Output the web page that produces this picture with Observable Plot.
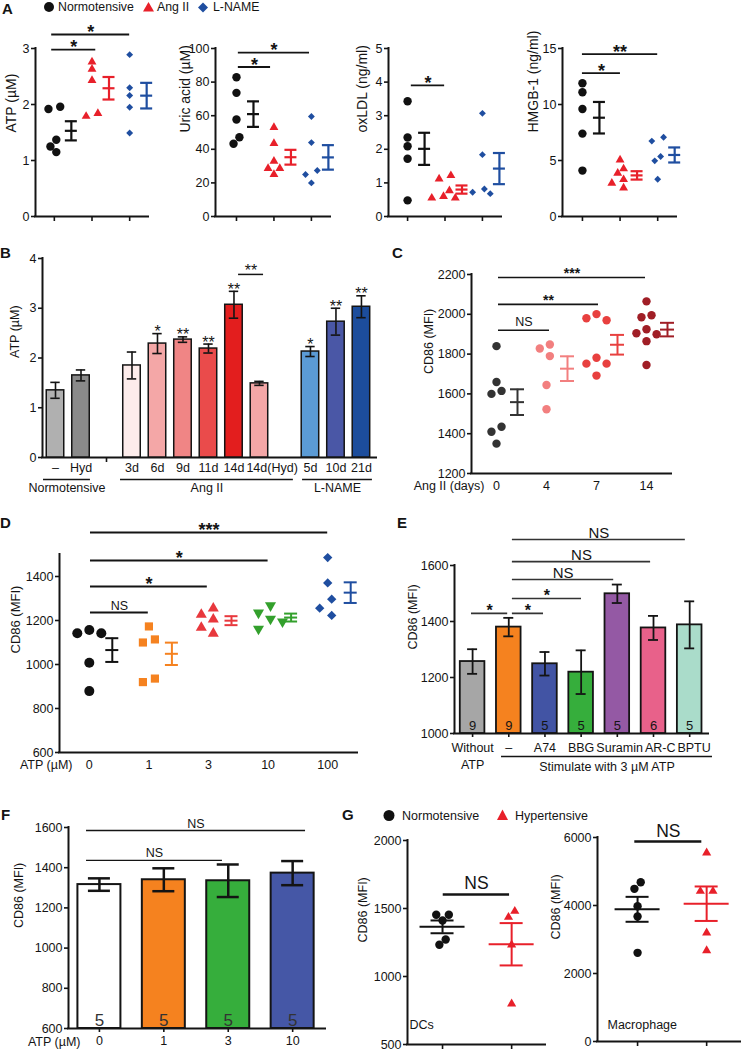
<!DOCTYPE html>
<html>
<head>
<meta charset="utf-8">
<script src="https://cdn.jsdelivr.net/npm/d3@7"></script>
<script src="https://cdn.jsdelivr.net/npm/@observablehq/plot@0.6"></script>
<style>
  html, body { margin: 0; padding: 0; background: #fff; }
  #page { position: relative; width: 741px; height: 1050px; overflow: hidden; background: #fff; }
  #page > svg { position: absolute; left: 0; top: 0; }
</style>
</head>
<body>
<div id="page"></div>
<script>
const W = 741, H = 1050;
const FONT = '"Liberation Sans", Arial, Helvetica, sans-serif';
const INK = "#141414";

/* ================= DATA ================= */
// Panel A (three groups, scatter with mean ± SEM)
const groupsA = ["Normotensive", "Ang II", "L-NAME"];
const colorsA = ["#111111", "#e8202a", "#1f4ea0"];
const atpA = [[1.96, 1.92, 1.37, 1.15, 1.25], [2.63, 2.76, 2.43, 1.79, 1.84], [2.89, 2.30, 2.16, 1.95, 1.49]];
const uricAcidA = [[82.9, 73.6, 57.7, 47.2, 43.3], [53, 43.5, 33, 28.6, 28.6, 25], [59.5, 44, 27.4, 25, 20]];
const oxLDLA = [[3.43, 2.35, 2.09, 1.72, 0.48], [1.22, 1.12, 0.77, 0.60, 0.55, 0.55], [3.07, 1.84, 0.82, 0.72, 0.68]];
const hmgbA = [[11.9, 11.1, 9.6, 7.4, 4.1], [5.06, 4.26, 3.87, 3.3, 2.97, 2.56], [7.08, 6.73, 5.36, 4.97, 3.33]];
const ticksAtp = [0, 1, 2, 3], ticksUric = [0, 20, 40, 60, 80, 100], ticksOx = [0, 1, 2, 3, 4, 5], ticksHmgb = [0, 5, 10, 15];
const sigA1 = [{x1: -0.07, x2: 1.1, y: 2.98, label: "*"}, {x1: -0.07, x2: 2.0, y: 3.25, label: "*"}];
const sigA2 = [{x1: 0.05, x2: 0.91, y: 89, label: "*"}, {x1: 0.05, x2: 1.95, y: 97.6, label: "*"}];
const sigA3 = [{x1: 0.1, x2: 0.99, y: 3.9, label: "*"}];
const sigA4 = [{x1: 0.0, x2: 1.01, y: 12.8, label: "*"}, {x1: 0.0, x2: 2.0, y: 14.5, label: "**"}];

// Panel B (bars, ATP over time)
const bConditions = ["–", "Hyd", "3d", "6d", "9d", "11d", "14d", "14d(Hyd)", "5d", "10d", "21d"];
const bGroupOf = ["Normotensive", "Normotensive", "Ang II", "Ang II", "Ang II", "Ang II", "Ang II", "Ang II", "L-NAME", "L-NAME", "L-NAME"];
const bGroups = ["Normotensive", "Ang II", "L-NAME"];
const bMean = [1.35, 1.65, 1.85, 2.29, 2.37, 2.19, 3.07, 1.49, 2.13, 2.73, 3.03];
const bSem = [0.16, 0.11, 0.27, 0.20, 0.055, 0.09, 0.27, 0.04, 0.10, 0.27, 0.22];
const bStars = ["", "", "", "*", "**", "**", "**", "", "*", "**", "**"];
const bColors = ["#b0b0b0", "#8a8a8a", "#fdeceb", "#f4a7a7", "#f08585", "#ea4b4b", "#e31e1e", "#f4a7a7", "#5b9bd5", "#4a57a6", "#1c4d9c"];
const bTicksY = [0, 1, 2, 3, 4];
const bGroupSpan = [[-0.47, 1.37], [2.55, 9.33], [9.69, 12.43]];
const sigB = [{x1: 7.18, x2: 8.16, y: 3.68, label: "**"}];

// Panel C (CD86 vs Ang II days)
const cDays = ["0", "4", "7", "14"];
const cColors = ["#333333", "#f27f7f", "#e8403f", "#a01e26"];
const cd86Days = [
  [1840, 1660, 1600, 1615, 1435, 1410, 1350],
  [1848, 1828, 1790, 1645, 1523],
  [2001, 1970, 1980, 1782, 1752, 1752, 1692],
  [2065, 1995, 1985, 1925, 1900, 1905, 1865, 1745]
];
const cTicksY = [1200, 1400, 1600, 1800, 2000, 2200];
const sigC = [{x1: 0.04, x2: 1.06, y: 1920, label: "NS"}, {x1: 0.04, x2: 2.04, y: 2050, label: "**"}, {x1: 0.04, x2: 2.98, y: 2185, label: "***"}];

// Panel D (CD86 vs ATP dose)
const dDoses = ["0", "1", "3", "10", "100"];
const dColors = ["#111111", "#f58220", "#e8383d", "#33a02c", "#1f4ea0"];
const cd86Dose = [
  [1157, 1142, 1142, 1008, 879],
  [1173, 1114, 1100, 936, 920],
  [1255, 1227, 1205, 1168, 1141],
  [1268, 1235, 1207, 1195, 1162],
  [1486, 1371, 1297, 1256, 1223]
];
const dTicksY = [600, 800, 1000, 1200, 1400];
const sigD = [{x1: 0.02, x2: 0.99, y: 1236, label: "NS"}, {x1: 0.02, x2: 1.98, y: 1355, label: "*"}, {x1: 0.02, x2: 3.0, y: 1473, label: "*"}, {x1: 0.02, x2: 4.0, y: 1600, label: "***"}];

// Panel E (antagonists)
const eLabels = ["Without\nATP", "–", "A74", "BBG", "Suramin", "AR-C", "BPTU"];
const eMean = [1257, 1380, 1249, 1219, 1499, 1377, 1388];
const eSem = [44, 33, 42, 78, 33, 43, 84];
const eN = [9, 9, 5, 5, 5, 6, 5];
const eColors = ["#a6a6a6", "#f5821f", "#4254a4", "#36ae3c", "#9459a4", "#e8618a", "#aadcca"];
const eTicksY = [1000, 1200, 1400, 1600];
const sigE = [
  {x1: -0.03, x2: 0.97, y: 1429, label: "*"}, {x1: 1.1, x2: 1.96, y: 1429, label: "*"},
  {x1: 1.1, x2: 3.01, y: 1482, label: "*"}, {x1: 1.1, x2: 3.9, y: 1550, label: "NS"},
  {x1: 1.1, x2: 4.92, y: 1614, label: "NS"}, {x1: 1.1, x2: 5.88, y: 1693, label: "NS"}
];

// Panel F (bars vs ATP dose)
const fDoses = ["0", "1", "3", "10"];
const fMean = [1316, 1340, 1335, 1373];
const fSem = [31, 57, 81, 60];
const fN = [5, 5, 5, 5];
const fColors = ["#ffffff", "#f5821f", "#36ae3c", "#4557a6"];
const fTicksY = [600, 800, 1000, 1200, 1400, 1600];
const sigF = [{x1: -0.2, x2: 1.91, y: 1436, label: "NS"}, {x1: -0.2, x2: 3.2, y: 1585, label: "NS"}];

// Panel G (DCs and macrophages)
const gGroups = ["Normotensive", "Hypertensive"];
const gColors = ["#111111", "#e8202a"];
const dcsG = [[1454, 1454, 1412, 1233, 1272], [1480, 1436, 1233, 799]];
const macroG = [[4685, 4490, 3980, 3676, 2608], [5550, 4420, 4420, 3197, 2676]];
const gTicksDC = [500, 1000, 1500, 2000], gTicksMac = [0, 2000, 4000, 6000];
const sigG1 = [{x1: 0.01, x2: 0.97, y: 1603, label: "NS"}];
const sigG2 = [{x1: -0.04, x2: 0.93, y: 5882, label: "NS"}];

/* ================= LAYOUT (page pixels) ================= */
function frame(left, right, top, bottom, xd, yd) {
  return {left, right, top, bottom, xd, yd, kx: (right - left) / (xd[1] - xd[0]), ky: (bottom - top) / (yd[1] - yd[0])};
}
const fA1 = frame(35, 148, 48, 216, [-0.5, 2.5], [0, 3]);
const fA2 = frame(215, 330, 48, 216, [-0.56, 2.51], [0, 100]);
const fA3 = frame(388, 501, 48, 216, [-0.51, 2.51], [0, 5]);
const fA4 = frame(562, 676, 48, 216, [-0.53, 2.5], [0, 15]);
const fB = frame(42, 376, 258, 457, [-0.51, 12.59], [0, 4]);
const fC = frame(471, 671, 274, 473, [-0.5, 3.5], [1200, 2200]);
const fD = frame(59, 357, 554, 752, [-0.5, 4.5], [600, 1500]);
const fE = frame(454, 708, 565, 733, [-0.5, 6.52], [1000, 1600]);
const fF = frame(68, 325, 827, 1028, [-0.48, 3.51], [600, 1600]);
const fG1 = frame(407, 545, 840, 1044, [-0.507, 1.49], [500, 2000]);
const fG2 = frame(597, 740, 837, 1041, [-0.58, 1.49], [0, 6000]);

/* ================= HELPERS ================= */
const page = document.getElementById("page");

function chart(f, marks) {
  const svg = Plot.plot({
    width: W, height: H,
    marginLeft: f.left, marginRight: W - f.right, marginTop: f.top, marginBottom: H - f.bottom,
    x: {type: "linear", domain: f.xd, range: [f.left, f.right], axis: null, label: null},
    y: {type: "linear", domain: f.yd, range: [f.bottom, f.top], axis: null, label: null},
    style: `background: transparent; overflow: visible; font-family: ${FONT}; font-size: 12.5px; color: ${INK};`,
    marks: [
      Plot.ruleX([f.xd[0]], {y1: f.yd[0], y2: f.yd[1], stroke: INK, strokeWidth: 2, strokeLinecap: "square"}),
      Plot.ruleY([f.yd[0]], {x1: f.xd[0], x2: f.xd[1], stroke: INK, strokeWidth: 2, strokeLinecap: "square"}),
      ...marks
    ]
  });
  page.appendChild(svg);
}

function yAxis(ticks, fontSize = 12.5) {
  return Plot.axisY({ticks, tickSize: 4, tickPadding: 2, tickFormat: d => String(d), label: null, strokeWidth: 1.6, fontSize});
}
function yLabel(text, offset, fontSize = 12.5) {
  return Plot.text([text], {frameAnchor: "left", dx: -offset, rotate: -90, text: d => d, fontSize});
}

// category labels under an axis: pushed rightwards only where two would overlap
const measureCtx = document.createElement("canvas").getContext("2d");
function textWidth(s, size) {
  measureCtx.font = `${size}px ${FONT}`;
  return d3.max(s.split("\n"), l => measureCtx.measureText(l).width);
}
function categoryLabels(f, labels, slots, {size = 12.5, dy = 7, lineHeight = 1}) {
  let prevRight = -Infinity;
  const xs = labels.map((l, i) => {
    const w = textWidth(l, size), c = f.left + (slots[i] - f.xd[0]) * f.kx;
    const shift = Math.max(0, prevRight + 2 - (c - w / 2));
    prevRight = c - w / 2 + shift + w;
    return slots[i] + shift / f.kx;
  });
  return Plot.text(labels, {x: (d, i) => xs[i], y: () => f.yd[0], text: d => d, dy, lineAnchor: "top", fontSize: size, lineHeight});
}

// beeswarm-like horizontal offsets (in x units) so that symbols do not overlap too much
function swarm(vals, f, diam, stepF = 0.75, minF = 1.05) {
  const minD = diam * minF, step = diam * stepF;
  const order = d3.range(vals.length).sort((a, b) => vals[b] - vals[a]);
  const pos = new Array(vals.length).fill(0);
  const placed = [];
  for (const i of order) {
    const py = vals[i] * f.ky;
    for (let k = 0; k < 60; k++) {
      const c = k === 0 ? 0 : (k % 2 ? -1 : 1) * Math.ceil(k / 2) * step;
      if (placed.every(p => Math.hypot(pos[p] - c, vals[p] * f.ky - py) >= minD)) { pos[i] = c; break; }
    }
    placed.push(i);
  }
  // clusters: chains of points that are vertically closer than one symbol; centre each cluster
  let cluster = [order[0]];
  const flush = () => {
    const m = d3.mean(cluster, i => pos[i]);
    cluster.forEach(i => { pos[i] -= m; });
  };
  for (let k = 1; k < order.length; k++) {
    const a = order[k - 1], b = order[k];
    if ((vals[a] - vals[b]) * f.ky < minD) cluster.push(b);
    else { flush(); cluster = [b]; }
  }
  flush();
  return pos.map(p => p / f.kx);
}

function dotPlot(f, groups, o) {
  const {colors, symbols, r, diam, stepF, minF, ebDx, meanHalf, capHalf, sw} = o;
  const marks = [];
  groups.forEach((vals, gi) => {
    const off = swarm(vals, f, diam, stepF, minF);
    const pts = vals.map((v, i) => ({x: gi + off[i], v}));
    marks.push(Plot.dot(pts, {x: "x", y: "v", r: r[gi], symbol: symbols[gi], fill: colors[gi], stroke: "none"}));
  });
  const stats = groups.map((vals, gi) => {
    const m = d3.mean(vals), s = d3.deviation(vals) / Math.sqrt(vals.length);
    return {x: gi + ebDx / f.kx, m, lo: m - s, hi: m + s, c: colors[gi]};
  });
  const mh = meanHalf / f.kx, ch = capHalf / f.kx;
  marks.push(Plot.ruleX(stats, {x: "x", y1: "lo", y2: "hi", stroke: d => d.c, strokeWidth: sw}));
  marks.push(Plot.ruleY(stats, {y: "m", x1: d => d.x - mh, x2: d => d.x + mh, stroke: d => d.c, strokeWidth: sw}));
  marks.push(Plot.ruleY(stats, {y: "lo", x1: d => d.x - ch, x2: d => d.x + ch, stroke: d => d.c, strokeWidth: sw}));
  marks.push(Plot.ruleY(stats, {y: "hi", x1: d => d.x - ch, x2: d => d.x + ch, stroke: d => d.c, strokeWidth: sw}));
  return marks;
}

function barPlot(f, slots, means, sems, colors, o) {
  const {half, capHalf, base, sw, ebw} = o;
  const hw = half / f.kx, ch = capHalf / f.kx;
  const data = means.map((m, i) => ({x: slots[i], m, lo: m - sems[i], hi: m + sems[i], c: colors[i]}));
  return [
    Plot.rect(data, {x1: d => d.x - hw, x2: d => d.x + hw, y1: () => base, y2: "m", fill: d => d.c, stroke: INK, strokeWidth: sw}),
    Plot.ruleX(data, {x: "x", y1: "lo", y2: "hi", stroke: INK, strokeWidth: ebw}),
    Plot.ruleY(data, {y: "hi", x1: d => d.x - ch, x2: d => d.x + ch, stroke: INK, strokeWidth: ebw}),
    Plot.ruleY(data, {y: "lo", x1: d => d.x - ch, x2: d => d.x + ch, stroke: INK, strokeWidth: ebw})
  ];
}

function sig(list, o = {}) {
  const {starSize = 17, nsSize = 12.5, starGap = 6.5, nsGap = 7.5, sw = 1.6, stroke = INK, bold = true} = o;
  const stars = list.filter(d => d.label !== "NS"), ns = list.filter(d => d.label === "NS");
  return [
    Plot.ruleY(list, {y: "y", x1: "x1", x2: "x2", stroke, strokeWidth: sw}),
    Plot.text(stars, {x: d => (d.x1 + d.x2) / 2, y: "y", text: "label", fontSize: starSize, fontWeight: bold ? "bold" : "normal", dy: -starGap + 0.25 * starSize}),
    Plot.text(ns, {x: d => (d.x1 + d.x2) / 2, y: "y", text: "label", fontSize: nsSize, dy: -nsGap})
  ];
}

/* ================= PANEL A ================= */
const symbolsA = ["circle", "triangle", "diamond2"];
[
  {f: fA1, data: atpA, ticks: ticksAtp, label: "ATP (µM)", off: 24, s: sigA1},
  {f: fA2, data: uricAcidA, ticks: ticksUric, label: "Uric acid (µM)", off: 30, s: sigA2},
  {f: fA3, data: oxLDLA, ticks: ticksOx, label: "oxLDL (ng/ml)", off: 26, s: sigA3},
  {f: fA4, data: hmgbA, ticks: ticksHmgb, label: "HMGB-1 (ng/ml)", off: 29, s: sigA4}
].forEach(p => chart(p.f, [
  yAxis(p.ticks, 12.5),
  Plot.axisX({ticks: [0, 1, 2], tickSize: 5, tickFormat: () => "", label: null, strokeWidth: 1.6}),
  yLabel(p.label, p.off, 14),
  ...dotPlot(p.f, p.data, {colors: colorsA, symbols: symbolsA, r: [4.2, 3.3, 3.1], diam: 8.4, stepF: 0.7, minF: 0.85, ebDx: 17, meanHalf: 6, capHalf: 6, sw: 2.2}),
  ...sig(p.s, {starSize: 18, starGap: 6.5, sw: 1.8})
]));

/* ================= PANEL B ================= */
const bSlot = bConditions.map((c, i) => i + bGroups.indexOf(bGroupOf[i]));
const bGap = bSlot[bGroupOf.lastIndexOf("Normotensive")] + 1;
chart(fB, [
  yAxis(bTicksY),
  yLabel("ATP (µM)", 28),
  Plot.ruleX([bGap], {y1: 0, y2: -5 / fB.ky, stroke: INK, strokeWidth: 1.6}),
  categoryLabels(fB, bConditions, bSlot, {size: 12.5, dy: 6}),
  ...barPlot(fB, bSlot, bMean, bSem, bColors, {half: 8.75, capHalf: 4.7, base: 0, sw: 1.5, ebw: 1.6}),
  Plot.text(bMean.map((m, i) => ({x: bSlot[i], y: m + bSem[i], s: bStars[i]})).filter(d => d.s),
    {x: "x", y: "y", text: "s", fontSize: 16, dy: -5.5 + 4}),
  ...sig(sigB, {starSize: 16, starGap: 8, bold: false, sw: 1.5}),
  Plot.ruleY(bGroups, {y: () => 0, x1: (g, i) => bGroupSpan[i][0], x2: (g, i) => bGroupSpan[i][1], dy: 22, stroke: INK, strokeWidth: 1.4}),
  Plot.text(bGroups, {x: (g, i) => (bGroupSpan[i][0] + bGroupSpan[i][1]) / 2, y: () => 0, text: d => d, dy: 30})
]);

/* ================= PANEL C ================= */
chart(fC, [
  yAxis(cTicksY),
  yLabel("CD86 (MFI)", 43),
  Plot.axisX({ticks: [0, 1, 2, 3], tickFormat: i => cDays[i], tickSize: 0, tickPadding: 8, label: null}),
  Plot.text(["Ang II (days)"], {frameAnchor: "bottom-left", dx: 13, dy: 16, textAnchor: "end", text: d => d}),
  ...dotPlot(fC, cd86Days, {colors: cColors, symbols: ["circle", "circle", "circle", "circle"], r: [4.2, 4.2, 4.2, 4.2], diam: 8.4, stepF: 1.2, minF: 1.0, ebDx: 21, meanHalf: 7, capHalf: 7, sw: 2}),
  ...sig(sigC, {starSize: 14, starGap: 7, nsSize: 12.5, nsGap: 8.5, sw: 1.6})
]);

/* ================= PANEL D ================= */
const downTriangle = {
  draw(ctx, size) {
    const y = Math.sqrt(size / (Math.sqrt(3) * 3));
    ctx.moveTo(0, 2 * y);
    ctx.lineTo(-Math.sqrt(3) * y, -y);
    ctx.lineTo(Math.sqrt(3) * y, -y);
    ctx.closePath();
  }
};
chart(fD, [
  yAxis(dTicksY),
  yLabel("CD86 (MFI)", 44, 13),
  Plot.axisX({ticks: [0, 1, 2, 3, 4], tickFormat: i => dDoses[i], tickSize: 0, tickPadding: 8, label: null}),
  Plot.text(["ATP (µM)"], {frameAnchor: "bottom-left", dx: 13, dy: 16, textAnchor: "end", text: d => d}),
  ...dotPlot(fD, cd86Dose, {colors: dColors, symbols: ["circle", "square", "triangle", downTriangle, "diamond2"], r: [5, 4.6, 4.1, 4.1, 4.2], diam: 10, stepF: 1.2, minF: 1.0, ebDx: 23, meanHalf: 6.5, capHalf: 6.5, sw: 2}),
  ...sig(sigD, {starSize: 18, starGap: 7, nsSize: 12.5, nsGap: 7, sw: 2})
]);

/* ================= PANEL E ================= */
const eSlot = eLabels.map((l, i) => i);
chart(fE, [
  yAxis(eTicksY),
  yLabel("CD86 (MFI)", 42),
  ...barPlot(fE, eSlot, eMean, eSem, eColors, {half: 12.3, capHalf: 5, base: 1000, sw: 1.8, ebw: 1.8}),
  Plot.axisX({ticks: eSlot, tickSize: 4, tickFormat: () => "", label: null, strokeWidth: 1.6}),
  categoryLabels(fE, eLabels, eSlot, {size: 12.5, dy: 7, lineHeight: 1.35}),
  Plot.text(eN, {x: (d, i) => eSlot[i], y: () => 1000, text: d => String(d), dy: -8, fontSize: 13}),
  Plot.ruleY([1000], {x1: 0.8, x2: 6.63, dy: 23, stroke: INK, strokeWidth: 1.3}),
  Plot.text(["Stimulate with 3 µM ATP"], {x: (0.8 + 6.63) / 2, y: () => 1000, dy: 33, text: d => d}),
  ...sig(sigE, {starSize: 16, starGap: 7, nsSize: 15, nsGap: 6, sw: 1.6, stroke: "#333"})
]);

/* ================= PANEL F ================= */
const fSlot = fDoses.map((d, i) => i);
chart(fF, [
  yAxis(fTicksY),
  yLabel("CD86 (MFI)", 50),
  ...barPlot(fF, fSlot, fMean, fSem, fColors, {half: 21.5, capHalf: 11, base: 600, sw: 2, ebw: 2.5}),
  Plot.axisX({ticks: fSlot, tickFormat: i => fDoses[i], tickSize: 4, tickPadding: 4, label: null, strokeWidth: 1.6}),
  Plot.text(["ATP (µM)"], {frameAnchor: "bottom-left", dx: 12, dy: 17, textAnchor: "end", text: d => d}),
  Plot.text(fN, {x: (d, i) => fSlot[i], y: () => 600, text: d => String(d), dy: -8, fontSize: 17, fill: "#333"}),
  ...sig(sigF, {nsSize: 12.5, nsGap: 7, sw: 1.3})
]);

/* ================= PANEL G ================= */
chart(fG1, [
  yAxis(gTicksDC),
  yLabel("CD86 (MFI)", 45),
  Plot.axisX({ticks: [0, 1], tickSize: 5, tickFormat: () => "", label: null, strokeWidth: 1.6}),
  ...dotPlot(fG1, dcsG, {colors: gColors, symbols: ["circle", "triangle"], r: [4.2, 3.4], diam: 8.4, stepF: 0.75, minF: 0.9, ebDx: 0, meanHalf: 22.5, capHalf: 11.5, sw: 2}),
  ...sig(sigG1, {nsSize: 17.5, nsGap: 11.5, sw: 2.6}),
  Plot.text(["DCs"], {frameAnchor: "bottom-left", dx: 2, dy: -16, textAnchor: "start", text: d => d})
]);
chart(fG2, [
  yAxis(gTicksMac),
  yLabel("CD86 (MFI)", 42),
  Plot.axisX({ticks: [0, 1], tickSize: 5, tickFormat: () => "", label: null, strokeWidth: 1.6}),
  ...dotPlot(fG2, macroG, {colors: gColors, symbols: ["circle", "triangle"], r: [4.2, 3.4], diam: 8.4, stepF: 0.75, minF: 0.9, ebDx: 0, meanHalf: 22.5, capHalf: 11.5, sw: 2}),
  ...sig(sigG2, {nsSize: 17.5, nsGap: 10, sw: 2.6}),
  Plot.text(["Macrophage"], {frameAnchor: "bottom-left", dx: 10, dy: -13, textAnchor: "start", text: d => d})
]);

/* ================= PANEL LETTERS AND LEGENDS ================= */
const ns = "http://www.w3.org/2000/svg";
const over = document.createElementNS(ns, "svg");
over.setAttribute("width", W); over.setAttribute("height", H);
over.style.fontFamily = FONT;
over.innerHTML = `
  <g font-weight="bold" font-size="15" fill="${INK}">
    <text x="2" y="14">A</text><text x="0" y="258">B</text><text x="392" y="258">C</text>
    <text x="0" y="528">D</text><text x="397" y="528">E</text><text x="1" y="820">F</text><text x="342" y="820">G</text>
  </g>
  <g font-size="12.3" fill="${INK}">
    <circle cx="49" cy="7" r="5" fill="${colorsA[0]}"/><text x="58" y="11.3">${groupsA[0]}</text>
    <polygon points="148.5,2 143,11.5 154,11.5" fill="${colorsA[1]}"/><text x="157" y="11.3">${groupsA[1]}</text>
    <polygon points="203,2.5 208,7.5 203,12.5 198,7.5" fill="${colorsA[2]}"/><text x="213" y="11.3">${groupsA[2]}</text>
  </g>
  <g font-size="12.5" fill="${INK}">
    <circle cx="389" cy="815.5" r="5.5" fill="${gColors[0]}"/><text x="402" y="820">${gGroups[0]}</text>
    <polygon points="502.5,809.5 497,820 508,820" fill="${gColors[1]}"/><text x="515" y="820">${gGroups[1]}</text>
  </g>`;
page.appendChild(over);
</script>
</body>
</html>
